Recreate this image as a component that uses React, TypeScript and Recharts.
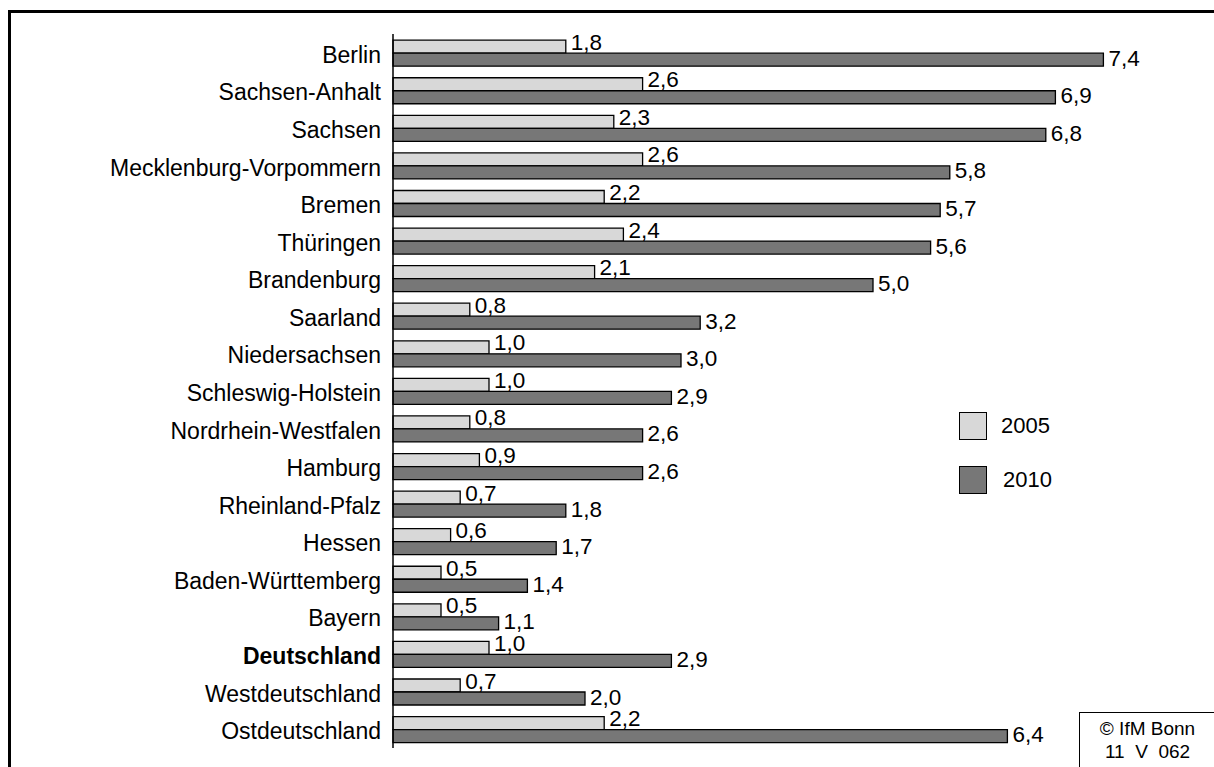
import React from 'react';
import { BarChart, Bar, XAxis, YAxis, LabelList } from 'recharts';

const regions = [
  'Berlin',
  'Sachsen-Anhalt',
  'Sachsen',
  'Mecklenburg-Vorpommern',
  'Bremen',
  'Thüringen',
  'Brandenburg',
  'Saarland',
  'Niedersachsen',
  'Schleswig-Holstein',
  'Nordrhein-Westfalen',
  'Hamburg',
  'Rheinland-Pfalz',
  'Hessen',
  'Baden-Württemberg',
  'Bayern',
  'Deutschland',
  'Westdeutschland',
  'Ostdeutschland',
];
const values2005 = [1.8, 2.6, 2.3, 2.6, 2.2, 2.4, 2.1, 0.8, 1.0, 1.0, 0.8, 0.9, 0.7, 0.6, 0.5, 0.5, 1.0, 0.7, 2.2];
const values2010 = [7.4, 6.9, 6.8, 5.8, 5.7, 5.6, 5.0, 3.2, 3.0, 2.9, 2.6, 2.6, 1.8, 1.7, 1.4, 1.1, 2.9, 2.0, 6.4];
const seriesNames = ['2005', '2010'];
const boldRegion = 'Deutschland';

const data = regions.map((name, i) => ({ name, v2005: values2005[i], v2010: values2010[i] }));

const FONT = '"Liberation Sans", Arial, sans-serif';
const LIGHT = '#d8d8d8';
const DARK = '#777777';

const fmt = (v: number) => v.toFixed(1).replace('.', ',');

function RegionTick(props: any) {
  const { x, y, payload } = props;
  const bold = payload.value === boldRegion;
  return (
    <text
      x={x}
      y={y}
      dy={10}
      textAnchor="end"
      fontFamily={FONT}
      fontSize={23}
      fontWeight={bold ? 'bold' : 'normal'}
      fill="#000"
    >
      {payload.value}
    </text>
  );
}

const valueLabel = (shift: number) => (props: any) => {
  const { x, y, width, height, value } = props;
  return (
    <text
      x={x + width + 5}
      y={y + height / 2 + shift}
      dy={8}
      fontFamily={FONT}
      fontSize={22.5}
      fill="#000"
    >
      {fmt(value)}
    </text>
  );
};

export default function App() {
  return (
    <div style={{ position: 'absolute', left: 0, top: 0, width: 1214, height: 767, overflow: 'hidden', background: '#fff' }}>
      <div
        style={{
          position: 'absolute',
          left: 8,
          top: 10,
          width: 1220,
          height: 770,
          borderTop: '3.5px solid #000',
          borderLeft: '3.5px solid #000',
        }}
      />
      <div style={{ position: 'absolute', left: 0, top: 0 }}>
        <BarChart
          width={1214}
          height={767}
          data={data}
          layout="vertical"
          margin={{ top: 34, right: 53, bottom: 19, left: 0 }}
          barCategoryGap="16.4%"
          barGap={0}
        >
          <XAxis type="number" domain={[0, 8]} hide />
          <YAxis
            type="category"
            dataKey="name"
            width={393}
            axisLine={{ stroke: '#000', strokeWidth: 1.5 }}
            tickLine={false}
            tickSize={0}
            tickMargin={12}
            tick={<RegionTick />}
            interval={0}
          />
          <Bar dataKey="v2005" name={seriesNames[0]} fill={LIGHT} stroke="#000" strokeWidth={1.3} isAnimationActive={false}>
            <LabelList dataKey="v2005" content={valueLabel(-5)} />
          </Bar>
          <Bar dataKey="v2010" name={seriesNames[1]} fill={DARK} stroke="#000" strokeWidth={1.3} isAnimationActive={false}>
            <LabelList dataKey="v2010" content={valueLabel(-2)} />
          </Bar>
        </BarChart>
      </div>
      {seriesNames.map((s, i) => (
        <div
          key={s}
          style={{
            position: 'absolute',
            left: 959,
            top: 412 + i * 54,
            display: 'flex',
            alignItems: 'center',
            fontFamily: FONT,
            fontSize: 22,
          }}
        >
          <div
            style={{
              width: 26,
              height: 26,
              background: i === 0 ? LIGHT : DARK,
              border: '1.5px solid #000',
            }}
          />
          <span style={{ marginLeft: 14 + i * 2 }}>{s}</span>
        </div>
      ))}
      <div
        style={{
          position: 'absolute',
          left: 1079,
          top: 712,
          width: 135,
          height: 80,
          borderTop: '1.5px solid #000',
          borderLeft: '1.5px solid #000',
          fontFamily: FONT,
          fontSize: 19,
          lineHeight: '23px',
          textAlign: 'center',
          paddingTop: 4,
          whiteSpace: 'pre',
        }}
      >
        {'© IfM Bonn\n11  V  062'}
      </div>
    </div>
  );
}
